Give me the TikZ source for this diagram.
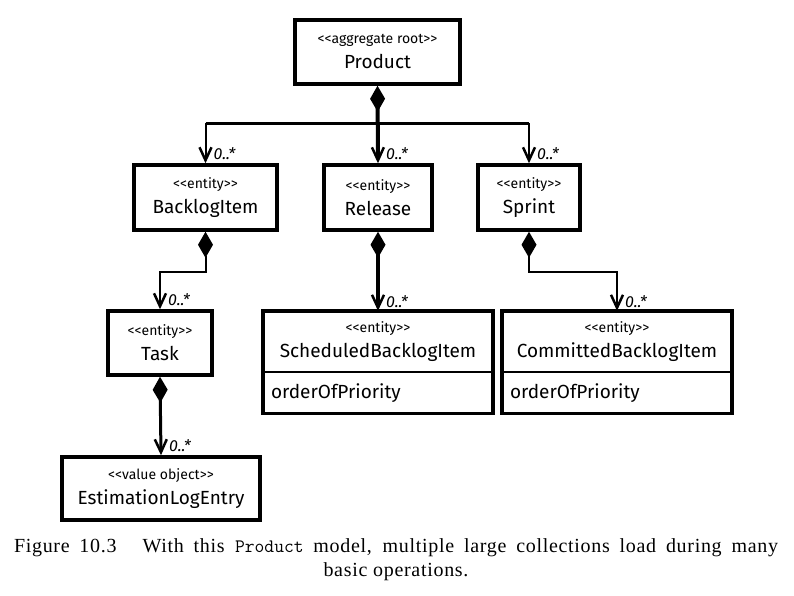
\documentclass[tikz,border=0pt]{standalone}
\usepackage{fontspec}
\setmainfont{Liberation Serif}[LetterSpace=3.5]
\newfontfamily\umlfont{Fira Sans}
\usetikzlibrary{arrows.meta,calc}
\tikzset{
  umlbox/.style={draw, line width=3.5pt, rectangle, align=center, inner sep=0pt, font=\umlfont\fontsize{19}{22}\selectfont},
  umltop/.style={rectangle, align=center, inner sep=0pt, minimum width=230pt, minimum height=61pt, font=\umlfont\fontsize{19}{22}\selectfont},
  attrbox/.style={rectangle, align=left, inner xsep=8pt, inner ysep=0pt, text width=214pt, minimum height=41pt, font=\umlfont\fontsize{19}{22}\selectfont},
  tip/.style={-{Straight Barb[length=13pt,width=12pt,line width=2.5pt]}},
  compo/.style={{Diamond[length=26pt,width=15pt]}-{Straight Barb[length=13pt,width=12pt,line width=2.5pt]}},
  thinline/.style={line width=2pt},
  thickline/.style={line width=4pt},
  midline/.style={line width=3pt},
  mult/.style={anchor=south west, inner sep=0pt, font=\umlfont\itshape\fontsize{16}{18}\selectfont}
}
\newcommand{\stereotype}[1]{{\fontsize{14}{16}\selectfont <\kern0pt<#1>\kern0pt>}\\[3pt]}
\begin{document}
\begin{tikzpicture}[x=1pt,y=-1pt]
\useasboundingbox (0,0) rectangle (794,595);
\node[umlbox, minimum width=165pt, minimum height=64pt] (product) at (377.5,52) {\stereotype{aggregate root}Product};
\node[umlbox, minimum width=143pt, minimum height=65pt] (bi) at (205.5,197.5) {\stereotype{entity}BacklogItem};
\node[umlbox, minimum width=108pt, minimum height=65pt] (rel) at (378,197.5) {\stereotype{entity}Release};
\node[umlbox, minimum width=102pt, minimum height=65pt] (spr) at (529,197.5) {\stereotype{entity}Sprint};
\node[umlbox, minimum width=104pt, minimum height=64pt] (task) at (160,343) {\stereotype{entity}Task};
\node[umltop] (sbi) at (378,341.5) {\stereotype{entity}ScheduledBacklogItem};
\node[attrbox, anchor=north] (sbia) at (sbi.south) {orderOfPriority};
\node[umltop] (cbi) at (617,341.5) {\stereotype{entity}CommittedBacklogItem};
\node[attrbox, anchor=north] (cbia) at (cbi.south) {orderOfPriority};
\node[umlbox, minimum width=198pt, minimum height=63pt] (ele) at (161,488.5) {\stereotype{value object}EstimationLogEntry};

\draw[line width=3.5pt] (sbi.north west) rectangle (sbia.south east);
\draw[line width=2pt] (sbi.south west) -- (sbi.south east);
\draw[line width=3.5pt] (cbi.north west) rectangle (cbia.south east);
\draw[line width=2pt] (cbi.south west) -- (cbi.south east);

\coordinate (jl) at (bi.north |- 0,123);
\coordinate (jr) at (spr.north |- 0,123);
\draw[midline] (jl) -- (jr);
\draw[thickline, compo] (product.south) -- (rel.north);
\draw[thinline, tip] (jl) -- (bi.north);
\draw[thinline, tip] (jr) -- (spr.north);
\draw[thinline, compo] (bi.south) -- ++(0,40) -| (task.north);
\draw[thickline, compo] (rel.south) -- (sbi.north);
\draw[thinline, compo] (spr.south) -- ++(0,40) -| (cbi.north);
\draw[midline, compo] (task.south) -- (ele.north);

\node[mult] (m1) at ($(bi.north)+(8,-3)$) {0..*};
\node[mult] (m2) at ($(rel.north)+(8,-3)$) {0..*};
\node[mult] (m3) at ($(spr.north)+(8,-3)$) {0..*};
\node[mult] (m4) at ($(task.north)+(8,-3)$) {0..*};
\node[mult] (m5) at ($(sbi.north)+(8,-3)$) {0..*};
\node[mult] (m6) at ($(cbi.north)+(8,-3)$) {0..*};
\node[mult] (m7) at ($(ele.north)+(8,-3)$) {0..*};

\node[align=center, font=\fontsize{20}{24}\selectfont, inner sep=0pt] (cap) at (396,560) {\makebox[764pt][s]{Figure 10.3\hspace{1.3em}With this {\fontsize{19}{24}\selectfont\texttt{Product}} model, multiple large collections load during many}\\basic operations.};
\end{tikzpicture}
\end{document}
